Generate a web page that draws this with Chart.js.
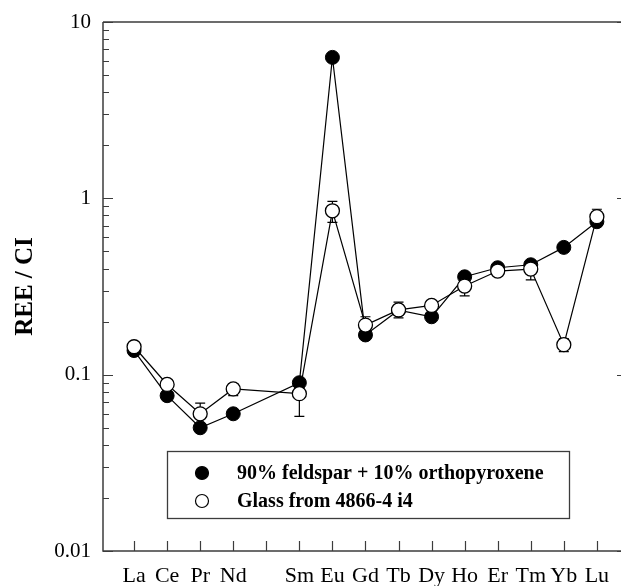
<!DOCTYPE html>
<html>
<head>
<meta charset="utf-8">
<script src="https://cdn.jsdelivr.net/npm/chart.js@4/dist/chart.umd.min.js"></script>
<style>
  html, body { margin: 0; padding: 0; background: #fff; }
  canvas { display: block; }
</style>
</head>
<body>
<canvas id="ree" width="621" height="586"></canvas>
<script>
// Element labels along the x axis (Pm left blank: no data)
const elements = ['La', 'Ce', 'Pr', 'Nd', '', 'Sm', 'Eu', 'Gd', 'Tb', 'Dy', 'Ho', 'Er', 'Tm', 'Yb', 'Lu'];
// Positions of the measured elements (1-based, Pm = 5 skipped)
const positions = [1, 2, 3, 4, 6, 7, 8, 9, 10, 11, 12, 13, 14, 15];

// Chondrite-normalised REE: modelled mixture
const mixValues = [0.137, 0.076, 0.050, 0.060, 0.090, 6.3, 0.168, 0.232, 0.213, 0.359, 0.404, 0.420, 0.527, 0.737];
// Chondrite-normalised REE: glass analysis, with its error range
const glassValues = [0.144, 0.088, 0.060, 0.083, 0.078, 0.850, 0.191, 0.233, 0.247, 0.318, 0.387, 0.397, 0.148, 0.787];
const glassLow  = [0.137, 0.083, 0.052, 0.076, 0.058, 0.730, 0.172, 0.210, 0.232, 0.280, 0.365, 0.345, 0.135, 0.720];
const glassHigh = [0.151, 0.093, 0.069, 0.089, 0.085, 0.960, 0.213, 0.258, 0.262, 0.350, 0.410, 0.440, 0.160, 0.867];

// Log-axis decades that carry labels
const yMajorTicks = [0.01, 0.1, 1, 10];
const yTickLabels = ['0.01', '0.1', '1', '10'];

const seriesNames = ['90% feldspar + 10% orthopyroxene', 'Glass from 4866-4 i4'];

const serif = "'Liberation Serif', 'Times New Roman', Times, serif";
const frameColor = '#3c3c3c';

function points(vals) {
  return vals.map((v, i) => ({ x: positions[i], y: v }));
}

// Inward tick marks and the plot frame
const framePlugin = {
  id: 'frame',
  afterDraw(chart) {
    const { ctx, chartArea: a, scales: { x, y } } = chart;
    ctx.save();
    ctx.strokeStyle = frameColor;
    ctx.lineWidth = 1.5;
    ctx.beginPath();
    ctx.moveTo(a.left, a.top);
    ctx.lineTo(a.left, a.bottom);
    ctx.lineTo(a.right + 6, a.bottom);
    ctx.moveTo(a.left, a.top);
    ctx.lineTo(a.right + 6, a.top);
    ctx.stroke();

    ctx.lineWidth = 1.2;
    ctx.beginPath();
    y.ticks.forEach(t => {
      const py = Math.round(y.getPixelForValue(t.value)) + 0.5;
      const major = yMajorTicks.includes(t.value);
      const len = major ? 10 : 6;
      ctx.moveTo(a.left, py);
      ctx.lineTo(a.left + len, py);
      if (major) {
        ctx.moveTo(a.right + 5, py);
        ctx.lineTo(a.right - 4, py);
      }
    });
    x.ticks.forEach(t => {
      const px = Math.round(x.getPixelForValue(t.value)) + 0.5;
      ctx.moveTo(px, a.bottom);
      ctx.lineTo(px, a.bottom - 10);
    });
    ctx.stroke();
    ctx.restore();
  }
};

// Vertical error bars for the glass analysis, drawn under its markers
const errorBarPlugin = {
  id: 'errorBars',
  beforeDatasetDraw(chart, args) {
    if (args.index !== 1) return;
    const { ctx, scales: { x, y } } = chart;
    ctx.save();
    ctx.strokeStyle = '#000';
    ctx.lineWidth = 1.2;
    ctx.beginPath();
    positions.forEach((p, i) => {
      const px = x.getPixelForValue(p);
      const y1 = y.getPixelForValue(glassLow[i]);
      const y2 = y.getPixelForValue(glassHigh[i]);
      ctx.moveTo(px, y1); ctx.lineTo(px, y2);
      ctx.moveTo(px - 5, y1); ctx.lineTo(px + 5, y1);
      ctx.moveTo(px - 5, y2); ctx.lineTo(px + 5, y2);
    });
    ctx.stroke();
    ctx.restore();
  }
};

// Boxed legend inside the lower part of the plot
const boxLegendPlugin = {
  id: 'boxLegend',
  afterDraw(chart) {
    const { ctx, chartArea: a } = chart;
    const left = a.left + 64, top = a.top + 429, w = 402, h = 67;
    ctx.save();
    ctx.fillStyle = '#fff';
    ctx.fillRect(left, top, w, h);
    ctx.strokeStyle = frameColor;
    ctx.lineWidth = 1.3;
    ctx.strokeRect(left + 0.5, top + 0.5, w, h);
    ctx.font = 'bold 20px ' + serif;
    ctx.textBaseline = 'middle';
    ctx.textAlign = 'left';
    chart.data.datasets.forEach((ds, k) => {
      const cy = top + 22 + k * 28;
      ctx.beginPath();
      ctx.arc(left + 35, cy, 6.5, 0, Math.PI * 2);
      ctx.fillStyle = ds.pointBackgroundColor;
      ctx.fill();
      ctx.strokeStyle = '#000';
      ctx.lineWidth = 1.2;
      ctx.stroke();
      ctx.fillStyle = '#000';
      ctx.fillText(ds.label, left + 70, cy + 1);
    });
    ctx.restore();
  }
};

new Chart(document.getElementById('ree'), {
  type: 'line',
  data: {
    datasets: [
      {
        label: seriesNames[0],
        data: points(mixValues),
        borderColor: '#000',
        borderWidth: 1.2,
        pointBackgroundColor: '#000',
        pointBorderColor: '#000',
        pointBorderWidth: 1,
        pointRadius: 7,
        tension: 0,
        order: 1
      },
      {
        label: seriesNames[1],
        data: points(glassValues),
        borderColor: '#000',
        borderWidth: 1.2,
        pointBackgroundColor: '#fff',
        pointBorderColor: '#000',
        pointBorderWidth: 1.3,
        pointRadius: 7,
        tension: 0,
        order: 0
      }
    ]
  },
  options: {
    responsive: false,
    animation: false,
    layout: { autoPadding: false, padding: { top: 22, left: 0, right: 0, bottom: 0 } },
    plugins: {
      legend: { display: false },
      tooltip: { enabled: false }
    },
    scales: {
      x: {
        type: 'linear',
        min: 0.06,
        max: 15.73,
        grid: { display: false, drawTicks: false },
        border: { display: false },
        afterBuildTicks(scale) {
          scale.ticks = elements.map((_, i) => ({ value: i + 1 }));
        },
        afterFit(scale) {
          scale.height = 35;
          scale.paddingLeft = 0;
          scale.paddingRight = 0;
        },
        ticks: {
          autoSkip: false,
          maxRotation: 0,
          padding: 12,
          color: '#000',
          font: { family: serif, size: 22 },
          callback: v => elements[v - 1] ?? ''
        }
      },
      y: {
        type: 'logarithmic',
        min: 0.01,
        max: 10,
        grid: { display: false, drawTicks: false },
        border: { display: false },
        afterBuildTicks(scale) {
          const t = [];
          for (let d = 0; d < yMajorTicks.length; d++) {
            const base = yMajorTicks[d];
            t.push({ value: base });
            if (d < yMajorTicks.length - 1) {
              for (let m = 2; m <= 9; m++) t.push({ value: +(base * m).toPrecision(3) });
            }
          }
          scale.ticks = t;
        },
        afterFit(scale) {
          scale.width = 103;
          scale.paddingTop = 0;
          scale.paddingBottom = 0;
        },
        ticks: {
          autoSkip: false,
          padding: 12,
          color: '#000',
          font: { family: serif, size: 21 },
          callback: v => {
            const k = yMajorTicks.indexOf(v);
            return k >= 0 ? yTickLabels[k] : '';
          }
        },
        title: {
          display: true,
          text: 'REE / CI',
          color: '#000',
          font: { family: serif, size: 25, weight: 'bold' },
          padding: { top: 11, bottom: 0 }
        }
      }
    }
  },
  plugins: [framePlugin, errorBarPlugin, boxLegendPlugin]
});
</script>
</body>
</html>
